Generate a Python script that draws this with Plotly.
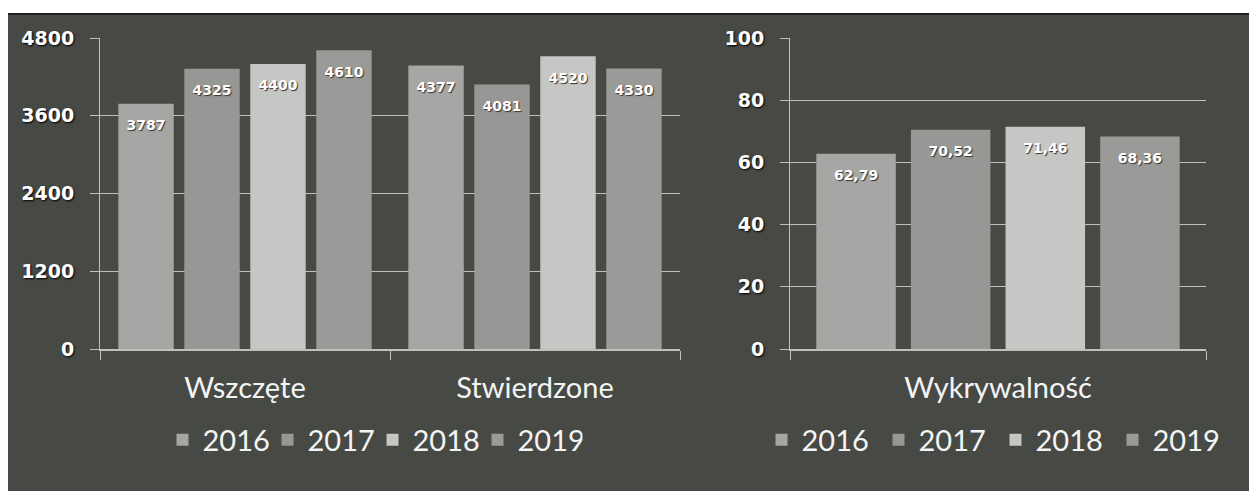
import plotly.graph_objects as go

# ---- data ----
years = ["2016", "2017", "2018", "2019"]
categories_left = ["Wszczęte", "Stwierdzone"]
wszczete = [3787, 4325, 4400, 4610]
stwierdzone = [4377, 4081, 4520, 4330]
category_right = ["Wykrywalność"]
wykrywalnosc = [62.79, 70.52, 71.46, 68.36]
left_ticks = [0, 1200, 2400, 3600, 4800]
right_ticks = [0, 20, 40, 60, 80, 100]

# ---- style ----
bar_colors = ["#a6a7a4", "#979895", "#c6c7c4", "#9a9b98"]
bg = "#464944"
grid = "#bfc0bc"
W, H = 1249, 491
GAP = 0.09

fig = go.Figure()
label_font = dict(family="DejaVu Sans", size=14, color="white", weight="bold",
                  shadow="1px 1px 1px #333")

for i, yr in enumerate(years):
    vals = [wszczete[i], stwierdzone[i]]
    fig.add_trace(go.Bar(
        x=categories_left, y=vals, name=yr, marker_color=bar_colors[i],
        marker_line_width=0, xaxis="x", yaxis="y", legend="legend",
        hoverinfo="skip",
    ))
for i, yr in enumerate(years):
    v = wykrywalnosc[i]
    fig.add_trace(go.Bar(
        x=category_right, y=[v], name=yr, marker_color=bar_colors[i],
        marker_line_width=0, xaxis="x2", yaxis="y2", legend="legend2",
        hoverinfo="skip",
    ))

# value labels, placed just below the top of each bar
for i, yr in enumerate(years):
    vals = [wszczete[i], stwierdzone[i]]
    fig.add_trace(go.Scatter(
        x=categories_left, y=vals, mode="markers+text",
        marker=dict(size=24, color="rgba(0,0,0,0)"),
        text=[str(v) for v in vals], textposition="bottom center",
        textfont=label_font, xaxis="x", yaxis="y", showlegend=False,
        hoverinfo="skip", cliponaxis=False,
    ))
for i, yr in enumerate(years):
    v = wykrywalnosc[i]
    fig.add_trace(go.Scatter(
        x=category_right, y=[v], mode="markers+text",
        marker=dict(size=24, color="rgba(0,0,0,0)"),
        text=[f"{v:.2f}".replace(".", ",")], textposition="bottom center",
        textfont=label_font, xaxis="x2", yaxis="y2", showlegend=False,
        hoverinfo="skip", cliponaxis=False,
    ))

ydom = [142 / H, 453 / H]
tickfont = dict(family="DejaVu Sans", size=19, color="white", weight="bold",
                shadow="1px 1px 2px #000")
catfont = dict(family="Lato", size=29, color="#f4f4f4")

common_y = dict(showgrid=True, gridcolor=grid, gridwidth=1, zeroline=False,
                showline=True, linecolor=grid, linewidth=1,
                ticks="outside", ticklen=9, tickcolor=grid, automargin=False,
                tickfont=tickfont, ticklabelstandoff=12, fixedrange=True)
common_x = dict(showline=True, linecolor=grid, linewidth=1.5,
                ticks="outside", ticklen=9, tickcolor=grid, automargin=False,
                tickson="boundaries", tickfont=catfont,
                ticklabelstandoff=12, fixedrange=True)

legend_font = dict(family="Lato", size=29, color="#f4f4f4")

fig.update_layout(
    width=W, height=H,
    margin=dict(l=0, r=0, t=0, b=0, pad=0),
    paper_bgcolor=bg,
    plot_bgcolor="rgba(0,0,0,0)",
    barmode="group", bargap=GAP, bargroupgap=0.16,
    scattermode="group", scattergap=GAP,
    showlegend=True,
    xaxis=dict(domain=[100 / W, 680 / W], anchor="y", **common_x),
    yaxis=dict(domain=ydom, anchor="x", range=[0, 4800], tickvals=left_ticks,
               **common_y),
    xaxis2=dict(domain=[790 / W, 1206 / W], anchor="y2", **common_x),
    yaxis2=dict(domain=ydom, anchor="x2", range=[0, 100], tickvals=right_ticks,
                **common_y),
    legend=dict(orientation="h", x=(100 + 680) / 2 / W - 0.014, xanchor="center",
                y=(H - 440) / H, yanchor="middle", font=legend_font,
                bgcolor="rgba(0,0,0,0)", itemclick=False, itemdoubleclick=False,
                entrywidth=60, entrywidthmode="pixels"),
    legend2=dict(orientation="h", x=(790 + 1206) / 2 / W - 0.002, xanchor="center",
                 y=(H - 440) / H, yanchor="middle", font=legend_font,
                 bgcolor="rgba(0,0,0,0)", itemclick=False, itemdoubleclick=False,
                 entrywidth=72, entrywidthmode="pixels"),
    shapes=[
        # white page strips around the dark chart area
        dict(type="rect", xref="paper", yref="paper", x0=-0.1, x1=1.1,
             y0=(H - 14) / H, y1=1.1, fillcolor="white", line_width=0,
             layer="below"),
        dict(type="rect", xref="paper", yref="paper", x0=-0.1, x1=8 / W,
             y0=-0.1, y1=1.1, fillcolor="white", line_width=0, layer="below"),
        dict(type="line", xref="paper", yref="paper", x0=8 / W, x1=1,
             y0=(H - 14) / H, y1=(H - 14) / H,
             line=dict(color="#1e1e1e", width=2), layer="below"),
    ],
)

fig.write_html("out.html", config={"displayModeBar": False},
               post_script="document.body.style.margin='0';")
